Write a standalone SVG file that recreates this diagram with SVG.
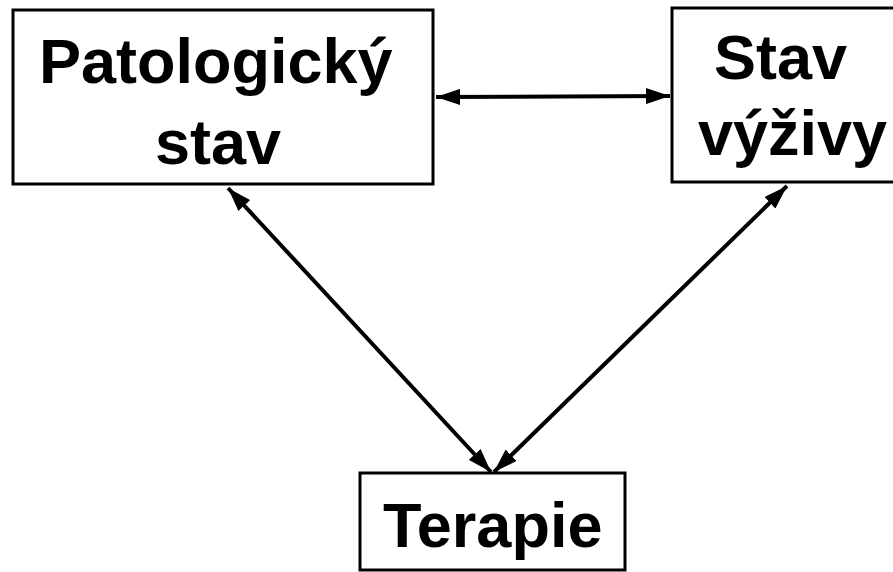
<svg xmlns="http://www.w3.org/2000/svg" width="893" height="572" viewBox="0 0 893 572">
<style>
.box{fill:#fff;stroke:#000;stroke-width:3}
.lbl{font-family:"Liberation Sans",Arial,sans-serif;font-weight:bold;font-size:63px;fill:#000}
.con{stroke:#000;stroke-width:4;fill:none;marker-start:url(#ah);marker-end:url(#ah)}
</style>
<defs>
<marker id="ah" viewBox="0 0 10 10" refX="10" refY="5" markerWidth="6" markerHeight="4" orient="auto-start-reverse" markerUnits="strokeWidth" preserveAspectRatio="none">
<path d="M0,0 L10,5 L0,10 z" fill="#000"/>
</marker>
</defs>
<rect width="893" height="572" fill="#fff"/>
<g id="patologicky">
<rect class="box" x="13" y="10" width="420" height="174"/>
<text class="lbl" x="39" y="83">Patologický</text>
<text class="lbl" x="155" y="164">stav</text>
</g>
<g id="stav-vyzivy">
<rect class="box" x="672" y="8" width="240" height="174"/>
<text class="lbl" x="714" y="79">Stav</text>
<text class="lbl" x="698" y="155">výživy</text>
</g>
<g id="terapie">
<rect class="box" x="360" y="473" width="265" height="97"/>
<text class="lbl" x="383" y="547">Terapie</text>
</g>
<g id="connectors">
<line class="con" x1="436" y1="97" x2="670" y2="96"/>
<line class="con" x1="228" y1="188" x2="491" y2="472"/>
<line class="con" x1="787" y1="186" x2="494" y2="472"/>
</g>
</svg>
